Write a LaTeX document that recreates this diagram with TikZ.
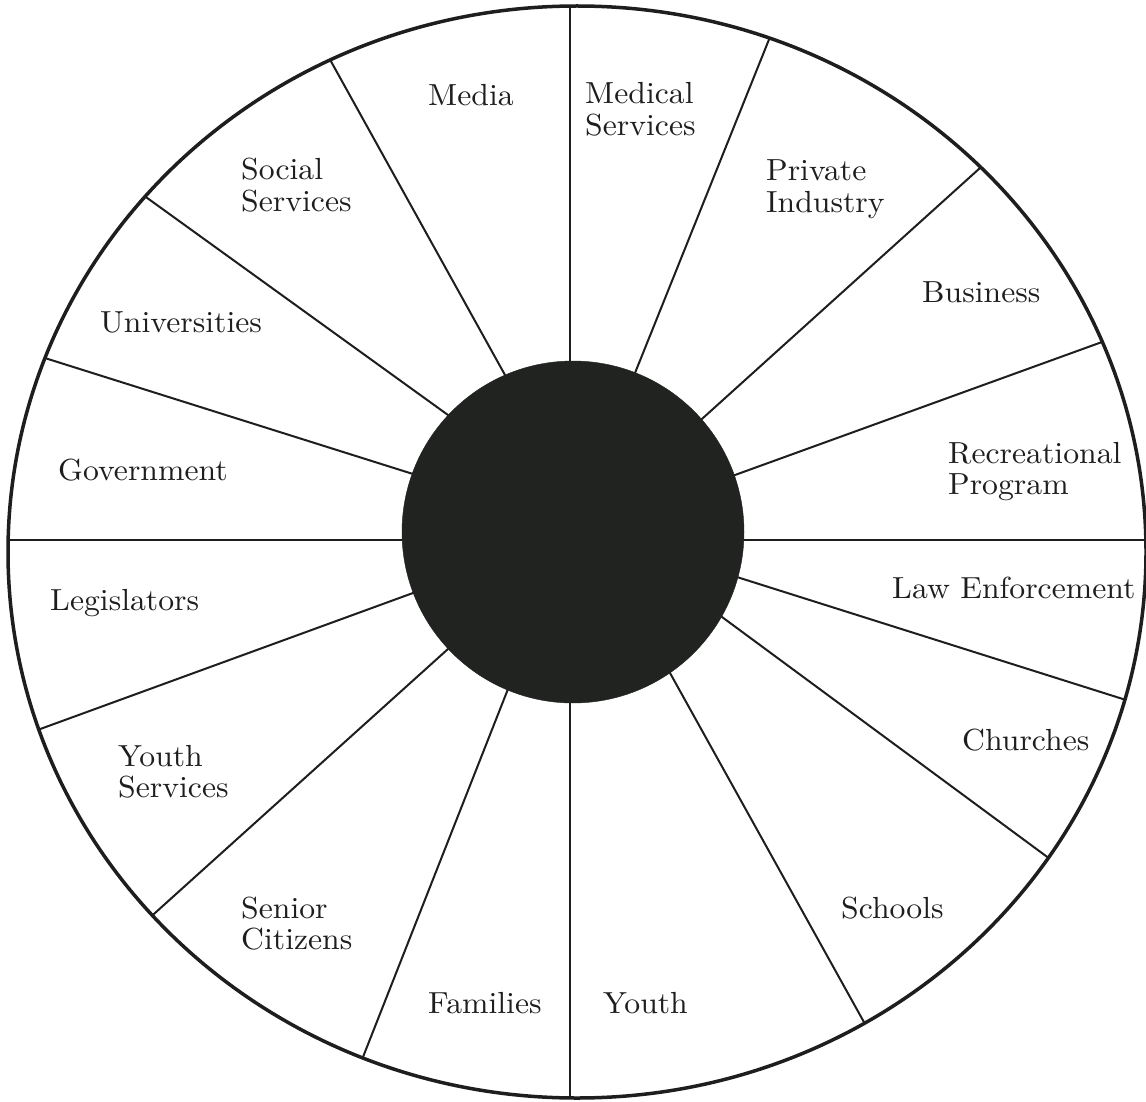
\documentclass[tikz,border=0pt]{standalone}
\usepackage{fontspec}
\newfontfamily\lblfont{lmroman10-regular}[Extension=.otf, FakeStretch=1.04]
\usetikzlibrary{calc}
\definecolor{ink}{HTML}{1E1E1E}
\definecolor{hubfill}{HTML}{202320}
\begin{document}
\begin{tikzpicture}[x=1pt,y=-1pt,
  spoke/.style={draw=ink,line width=2pt},
  rim/.style={draw=ink,line width=3.5pt},
  hubstyle/.style={circle,fill=hubfill,draw=hubfill,minimum size=342pt,inner sep=0pt},
  lbl/.style={anchor=base west,inner sep=0pt,text=ink,font=\lblfont\fontsize{30.5}{31.5}\selectfont}]
\useasboundingbox (0,0) rectangle (1146,1102);
\fill[white] (0,0) rectangle (1146,1102);
% spoke end points: inner (on hub edge) and outer (on rim)
\coordinate (i1) at (570,363);  \coordinate (o1) at (570,6);
\coordinate (i2) at (635,373);  \coordinate (o2) at (768,42);
\coordinate (i3) at (703,418);  \coordinate (o3) at (980,168);
\coordinate (i4) at (735,475);  \coordinate (o4) at (1102,342);
\coordinate (i5) at (744,540);  \coordinate (o5) at (1146,540);
\coordinate (i6) at (740,578);  \coordinate (o6) at (1126,700);
\coordinate (i7) at (722,617);  \coordinate (o7) at (1050,859);
\coordinate (i8) at (670,673);  \coordinate (o8) at (865,1024);
\coordinate (i9) at (570,701);  \coordinate (o9) at (570,1098);
\coordinate (i10) at (508,689); \coordinate (o10) at (363,1057);
\coordinate (i11) at (448,649); \coordinate (o11) at (155,913);
\coordinate (i12) at (413,593); \coordinate (o12) at (43,728);
\coordinate (i13) at (403,540); \coordinate (o13) at (8,540);
\coordinate (i14) at (413,474); \coordinate (o14) at (48,359);
\coordinate (i15) at (448,415); \coordinate (o15) at (150,200);
\coordinate (i16) at (505,375); \coordinate (o16) at (333,65);
\begin{scope}
  \clip (577,552) ellipse [x radius=569pt, y radius=546pt];
  \foreach \k in {1,...,16}{
    \draw[spoke] ($(o\k)!1.06!(i\k)$) -- ($(i\k)!1.05!(o\k)$);
  }
\end{scope}
\draw[rim] (577,552) ellipse [x radius=569pt, y radius=546pt];
\node[hubstyle] (hub) at (573,532) {};
% labels
\node[lbl] (media) at (428,106) {Media};
\node[lbl] (medical) at (585,104) {\begin{tabular}[t]{@{}l@{}}Medical\\Services\end{tabular}};
\node[lbl] (private) at (766,181) {\begin{tabular}[t]{@{}l@{}}Private\\Industry\end{tabular}};
\node[lbl] (business) at (922,302) {Business};
\node[lbl] (recreational) at (948,463) {\begin{tabular}[t]{@{}l@{}}Recreational\\Program\end{tabular}};
\node[lbl] (law) at (892,598) {Law Enforcement};
\node[lbl] (churches) at (962,750) {Churches};
\node[lbl] (schools) at (841,918) {Schools};
\node[lbl] (youth) at (603,1013) {Youth};
\node[lbl] (families) at (428,1013) {Families};
\node[lbl] (senior) at (241,918) {\begin{tabular}[t]{@{}l@{}}Senior\\Citizens\end{tabular}};
\node[lbl] (youthserv) at (118,766) {\begin{tabular}[t]{@{}l@{}}Youth\\Services\end{tabular}};
\node[lbl] (legislators) at (50,610) {Legislators};
\node[lbl] (government) at (58,480) {Government};
\node[lbl] (universities) at (100,332) {Universities};
\node[lbl] (social) at (241,180) {\begin{tabular}[t]{@{}l@{}}Social\\Services\end{tabular}};
\end{tikzpicture}
\end{document}
